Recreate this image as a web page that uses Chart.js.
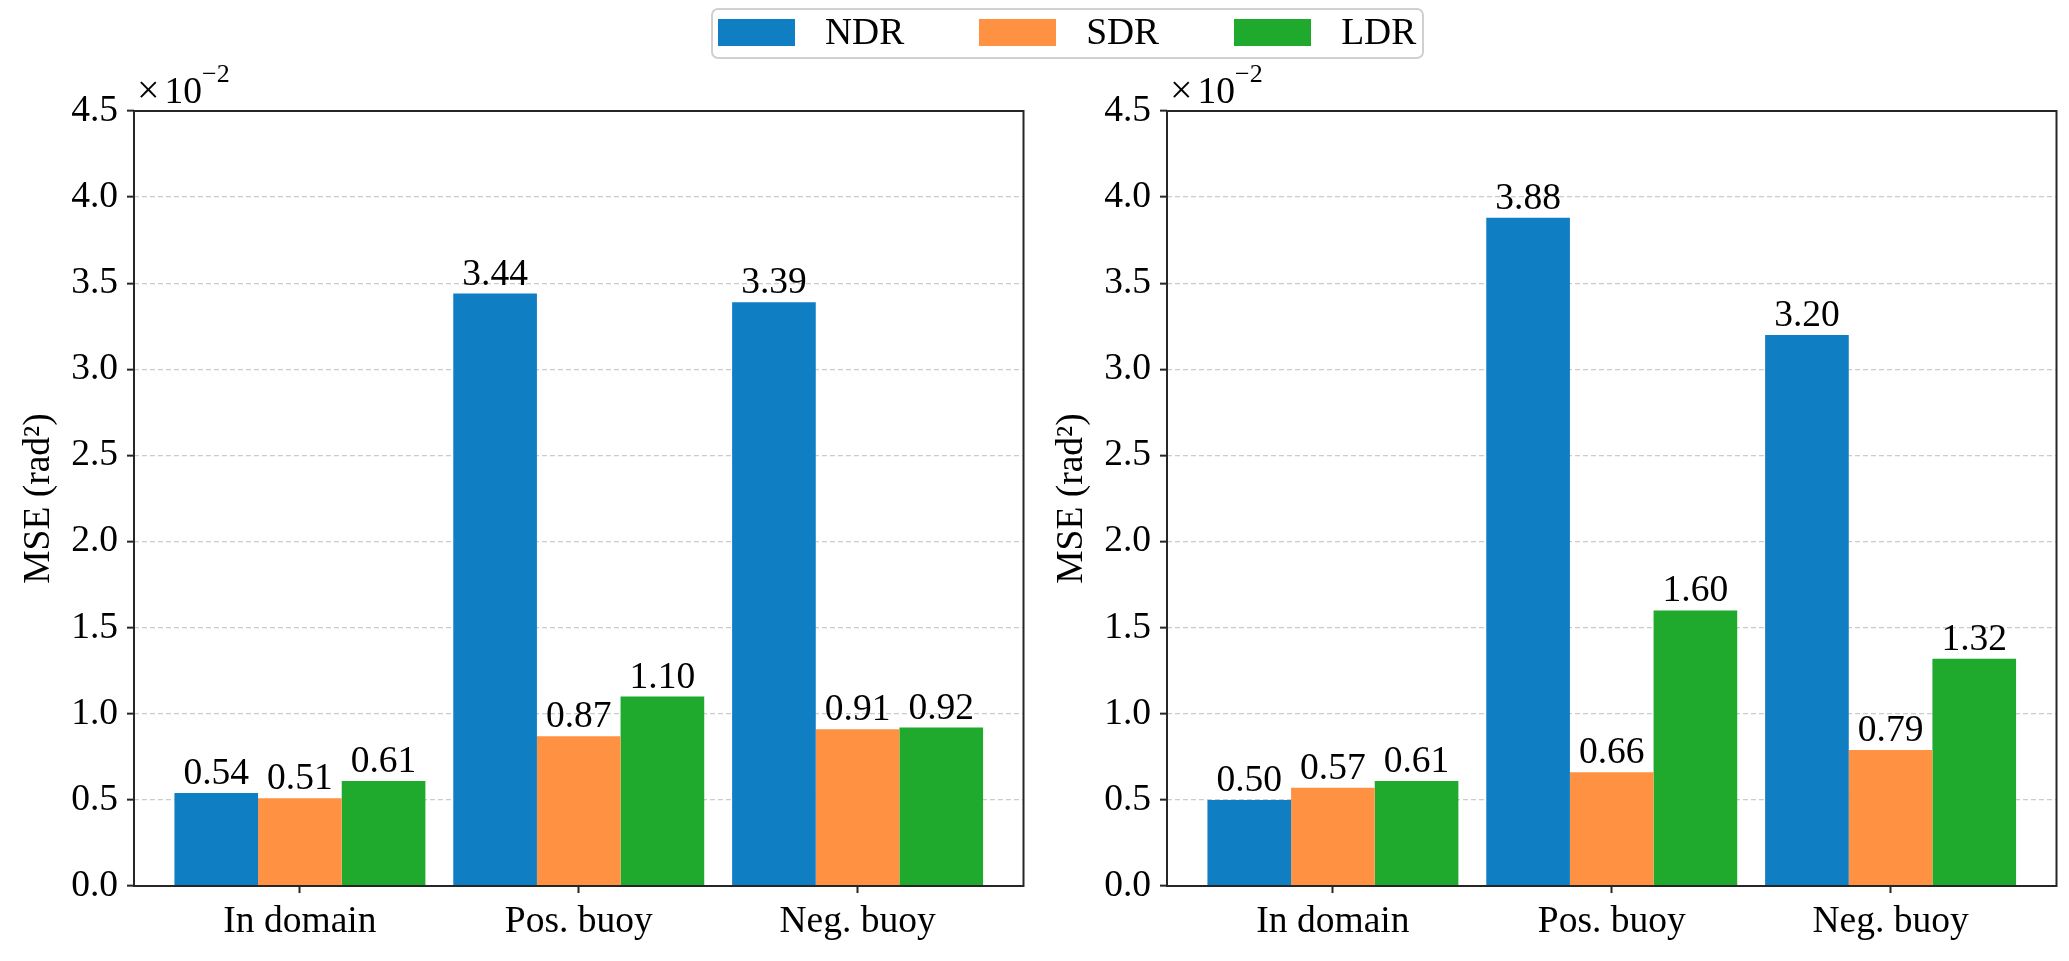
<!DOCTYPE html>
<html>
<head>
<meta charset="utf-8">
<script src="https://cdn.jsdelivr.net/npm/chart.js@4.4.1/dist/chart.umd.min.js"></script>
<style>
  html, body { margin: 0; padding: 0; background: #ffffff; width: 2069px; height: 961px; overflow: hidden; }
  #c1, #c2 { position: absolute; top: 0; }
  #c1 { left: 0; }
  #c2 { left: 1033px; }
  #legend {
    position: absolute; left: 711px; top: 8px; height: 51px; box-sizing: border-box;
    border: 2px solid #d0d0d0; border-radius: 7px; background: rgba(255,255,255,0.8);
    display: flex; align-items: center; padding: 0 6px 3px 5px;
    font-family: "Liberation Serif", "Times New Roman", serif; font-size: 37.5px; line-height: 1; color: #000;
  }
  #legend .item { display: flex; align-items: center; margin-right: 75px; }
  #legend .item:last-child { margin-right: 0; }
  #legend .sw { width: 77px; height: 27px; margin-right: 30px; }
</style>
</head>
<body>
<canvas id="c1" width="1033" height="961"></canvas>
<canvas id="c2" width="1036" height="961"></canvas>
<div id="legend"></div>
<script>
// ---- data ----
const categories = ["In domain", "Pos. buoy", "Neg. buoy"];
const seriesNames = ["NDR", "SDR", "LDR"];
const leftNDR = [0.54, 3.44, 3.39];
const leftSDR = [0.51, 0.87, 0.91];
const leftLDR = [0.61, 1.10, 0.92];
const rightNDR = [0.50, 3.88, 3.20];
const rightSDR = [0.57, 0.66, 0.79];
const rightLDR = [0.61, 1.60, 1.32];
const yTicks = [0.0, 0.5, 1.0, 1.5, 2.0, 2.5, 3.0, 3.5, 4.0, 4.5];
const yLabel = "MSE (rad\u00B2)";
const offsetBase = "\u00D7";
const offsetMant = "10";
const offsetExp = "\u22122";

// ---- styles ----
const colors = ["#107EC3", "#FF9142", "#1FAA2E"];
const FONT = '"Liberation Serif", "Times New Roman", serif';
const FS = 37.5;
const DARK = "#262626";

function makeDatasets(arrs) {
  return arrs.map((vals, k) => ({
    label: seriesNames[k],
    data: vals.map((v, i) => ({ x: i, y: v })),
    backgroundColor: colors[k],
    borderWidth: 0,
    categoryPercentage: 0.9,
    barPercentage: 1.0
  }));
}

const framePlugin = {
  id: "frame",
  afterDraw(chart) {
    const { ctx, chartArea: a } = chart;
    ctx.save();
    ctx.strokeStyle = DARK;
    ctx.lineWidth = 2;
    ctx.setLineDash([]);
    ctx.strokeRect(a.left, a.top, a.right - a.left, a.bottom - a.top);
    // offset text x10^-2
    ctx.fillStyle = "#000";
    ctx.textBaseline = "alphabetic";
    ctx.textAlign = "left";
    ctx.font = "40px " + FONT;
    let x = a.left + 3;
    const by = a.top - 8;
    ctx.fillText(offsetBase, x, by);
    x += ctx.measureText(offsetBase).width + 5;
    ctx.font = FS + "px " + FONT;
    ctx.fillText(offsetMant, x, by);
    x += ctx.measureText(offsetMant).width;
    ctx.font = "26px " + FONT;
    ctx.fillText(offsetExp, x, a.top - 29);
    ctx.restore();
  }
};

const valueLabelPlugin = {
  id: "valueLabels",
  afterDatasetsDraw(chart) {
    const { ctx } = chart;
    ctx.save();
    ctx.fillStyle = "#000";
    ctx.font = FS + "px " + FONT;
    ctx.textAlign = "center";
    ctx.textBaseline = "alphabetic";
    chart.data.datasets.forEach((ds, di) => {
      const meta = chart.getDatasetMeta(di);
      meta.data.forEach((el, i) => {
        ctx.fillText(ds.data[i].y.toFixed(2), el.x, el.y - 9);
      });
    });
    ctx.restore();
  }
};

function makeChart(id, arrs, rightPad) {
  return new Chart(document.getElementById(id), {
    type: "bar",
    data: { datasets: makeDatasets(arrs) },
    options: {
      responsive: false,
      animation: false,
      devicePixelRatio: 1,
      layout: { padding: { left: 0, right: rightPad, top: 111, bottom: 0 } },
      plugins: { legend: { display: false }, tooltip: { enabled: false } },
      scales: {
        x: {
          type: "linear",
          offset: false,
          min: -0.595,
          max: 2.595,
          afterBuildTicks: (s) => { s.ticks = categories.map((c, i) => ({ value: i })); },
          afterFit: (s) => { s.height = 75; },
          ticks: {
            autoSkip: false,
            maxRotation: 0,
            padding: 7,
            color: "#000",
            font: { family: FONT, size: FS },
            callback: (v) => categories[v]
          },
          grid: {
            offset: false,
            drawOnChartArea: false,
            drawTicks: true,
            tickLength: 7,
            tickColor: DARK,
            tickWidth: 2,
            tickBorderDash: []
          },
          border: { display: false }
        },
        y: {
          type: "linear",
          min: 0,
          max: 4.5,
          afterBuildTicks: (s) => { s.ticks = yTicks.map(v => ({ value: v })); },
          afterFit: (s) => { s.width = 134; },
          ticks: {
            autoSkip: false,
            padding: 9,
            color: "#000",
            font: { family: FONT, size: FS },
            callback: (v) => Number(v).toFixed(1)
          },
          grid: {
            color: "#cccccc",
            lineWidth: 1.3,
            drawTicks: true,
            tickLength: 7,
            tickColor: DARK,
            tickWidth: 2,
            tickBorderDash: []
          },
          border: { display: false, dash: [5, 3] },
          title: {
            display: true,
            text: yLabel,
            color: "#000",
            font: { family: FONT, size: FS },
            padding: { top: 17, bottom: 0 }
          }
        }
      }
    },
    plugins: [framePlugin, valueLabelPlugin]
  });
}

makeChart("c1", [leftNDR, leftSDR, leftLDR], 9.5);
makeChart("c2", [rightNDR, rightSDR, rightLDR], 12.5);

// legend
const lg = document.getElementById("legend");
seriesNames.forEach((n, k) => {
  const it = document.createElement("div");
  it.className = "item";
  const sw = document.createElement("div");
  sw.className = "sw";
  sw.style.background = colors[k];
  const tx = document.createElement("span");
  tx.textContent = n;
  it.appendChild(sw);
  it.appendChild(tx);
  lg.appendChild(it);
});
</script>
</body>
</html>
